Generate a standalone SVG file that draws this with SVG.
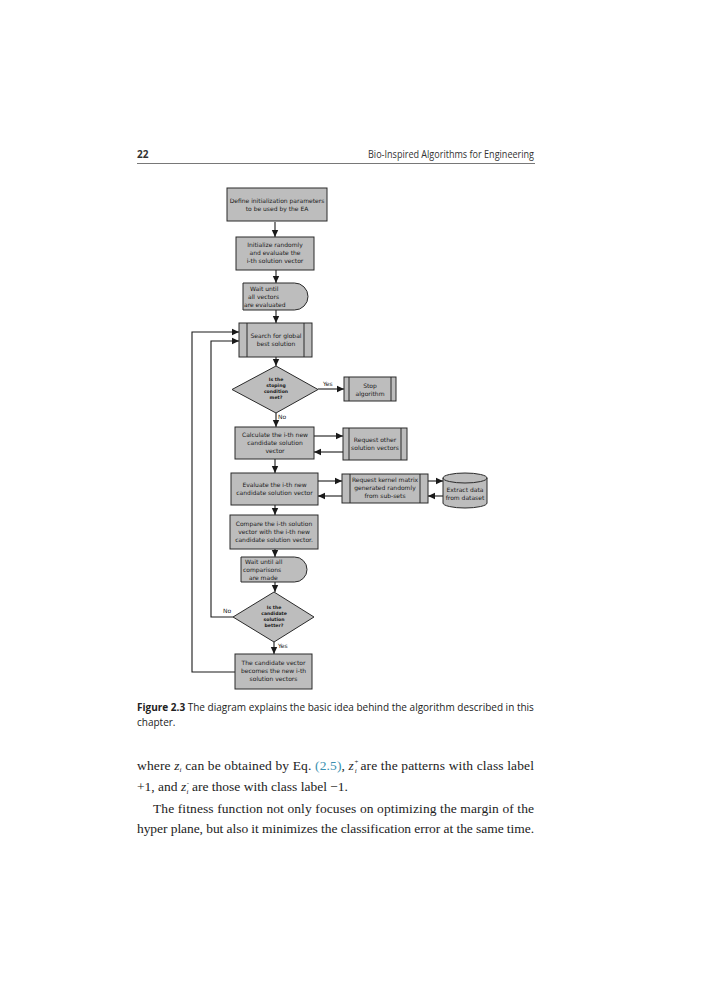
<svg xmlns="http://www.w3.org/2000/svg" width="724" height="1000" viewBox="0 0 724 1000">
<defs>
<style>
.box{fill:#bdbdbd;stroke:#2a2a2a;stroke-width:1}
.in{stroke:#2a2a2a;stroke-width:1}
.t{font-family:"DejaVu Sans",sans-serif;font-size:6px;fill:#1a1a1a;text-anchor:middle}
.tl{font-family:"DejaVu Sans",sans-serif;font-size:6px;fill:#1a1a1a}
.tb{font-family:"DejaVu Sans",sans-serif;font-size:4.6px;font-weight:bold;fill:#1a1a1a;text-anchor:middle}
.lab{font-family:"DejaVu Sans",sans-serif;font-size:6px;fill:#1a1a1a}
.c{fill:none;stroke:#1a1a1a;stroke-width:1.1}
.hdr{font-family:"Open Sans","Noto Sans",sans-serif;font-size:10px;fill:#333}
.cap{font-family:"Open Sans","Noto Sans",sans-serif;font-size:10px;fill:#222}
.body{font-family:"Liberation Serif",serif;font-size:13.5px;fill:#222}
.sc{font-style:italic;font-size:7px}
</style>
<marker id="ah" markerWidth="8" markerHeight="8" refX="7" refY="4" orient="auto" markerUnits="userSpaceOnUse">
<path d="M0,0.8 L7,4 L0,7.2 Z" fill="#1a1a1a"/>
</marker>
</defs>
<rect width="724" height="1000" fill="#fff"/>
<g id="header">
<text class="hdr" x="137" y="158" font-weight="bold" font-size="10.5">22</text>
<text class="hdr" x="534" y="158" text-anchor="end" textLength="166" lengthAdjust="spacingAndGlyphs">Bio-Inspired Algorithms for Engineering</text>
<line x1="137" y1="163.5" x2="535" y2="163.5" stroke="#555" stroke-width="0.8"/>
</g>
<g id="connectors">
<line class="c" x1="275" y1="222" x2="275" y2="237" marker-end="url(#ah)"/>
<line class="c" x1="276" y1="270" x2="276" y2="283" marker-end="url(#ah)"/>
<line class="c" x1="276" y1="310" x2="276" y2="323" marker-end="url(#ah)"/>
<line class="c" x1="276" y1="357" x2="276" y2="366" marker-end="url(#ah)"/>
<line class="c" x1="318" y1="389" x2="344" y2="389" marker-end="url(#ah)"/>
<line class="c" x1="276" y1="413" x2="276" y2="427" marker-end="url(#ah)"/>
<line class="c" x1="314" y1="436" x2="343" y2="436" marker-end="url(#ah)"/>
<line class="c" x1="343" y1="452" x2="314" y2="452" marker-end="url(#ah)"/>
<line class="c" x1="275" y1="459" x2="275" y2="473" marker-end="url(#ah)"/>
<line class="c" x1="318" y1="481" x2="342" y2="481" marker-end="url(#ah)"/>
<line class="c" x1="342" y1="496" x2="318" y2="496" marker-end="url(#ah)"/>
<line class="c" x1="428" y1="481" x2="443" y2="481" marker-end="url(#ah)"/>
<line class="c" x1="443" y1="496" x2="428" y2="496" marker-end="url(#ah)"/>
<line class="c" x1="275" y1="505" x2="275" y2="515" marker-end="url(#ah)"/>
<line class="c" x1="275" y1="549" x2="275" y2="557" marker-end="url(#ah)"/>
<line class="c" x1="275" y1="582" x2="275" y2="592" marker-end="url(#ah)"/>
<line class="c" x1="274" y1="642" x2="274" y2="654" marker-end="url(#ah)"/>
<polyline class="c" points="233,617 211,617 211,341 239,341" marker-end="url(#ah)"/>
<polyline class="c" points="235,672 192,672 192,332 239,332" marker-end="url(#ah)"/>
<text class="lab" x="323" y="386">Yes</text>
<text class="lab" x="278" y="419">No</text>
<text class="lab" x="223" y="613">No</text>
<text class="lab" x="278" y="648">Yes</text>
</g>
<g id="n1">
<rect class="box" x="227" y="188" width="100" height="33"/>
<text class="t" x="277" y="203">Define initialization parameters</text>
<text class="t" x="277" y="211">to be used by the EA</text>
</g>
<g id="n2">
<rect class="box" x="236" y="237" width="78" height="33"/>
<text class="t" x="275" y="247">Initialize randomly</text>
<text class="t" x="275" y="255">and evaluate the</text>
<text class="t" x="275" y="263">i-th solution vector</text>
</g>
<g id="n3">
<path class="box" d="M243,283 H294.5 A13.5,13.5 0 0 1 294.5,310 H243 Z"/>
<text class="tl" x="250" y="291">Wait until</text>
<text class="tl" x="248" y="299">all vectors</text>
<text class="tl" x="244" y="307">are evaluated</text>
</g>
<g id="n4">
<rect class="box" x="239" y="323" width="73" height="34"/>
<line class="in" x1="247" y1="323" x2="247" y2="357"/>
<line class="in" x1="304" y1="323" x2="304" y2="357"/>
<text class="t" x="276" y="338">Search for global</text>
<text class="t" x="276" y="346">best solution</text>
</g>
<g id="d1">
<polygon class="box" points="276,366 318,389.5 276,413 232,389.5"/>
<text class="tb" x="276" y="381">Is the</text>
<text class="tb" x="276" y="387">stoping</text>
<text class="tb" x="276" y="393">condition</text>
<text class="tb" x="276" y="399">met?</text>
</g>
<g id="stop">
<rect class="box" x="344" y="377" width="52" height="24"/>
<line class="in" x1="349" y1="377" x2="349" y2="401"/>
<line class="in" x1="391" y1="377" x2="391" y2="401"/>
<text class="t" x="370" y="388">Stop</text>
<text class="t" x="370" y="396">algorithm</text>
</g>
<g id="n5">
<rect class="box" x="235" y="427" width="79" height="32"/>
<text class="t" x="275" y="437">Calculate the i-th new</text>
<text class="t" x="275" y="445">candidate solution</text>
<text class="t" x="275" y="453">vector</text>
</g>
<g id="req1">
<rect class="box" x="343" y="428" width="64" height="32"/>
<line class="in" x1="349" y1="428" x2="349" y2="460"/>
<line class="in" x1="401" y1="428" x2="401" y2="460"/>
<text class="t" x="375" y="442">Request other</text>
<text class="t" x="375" y="450">solution vectors</text>
</g>
<g id="n6">
<rect class="box" x="231" y="473" width="87" height="32"/>
<text class="t" x="274.5" y="487">Evaluate the i-th new</text>
<text class="t" x="274.5" y="495">candidate solution vector</text>
</g>
<g id="req2">
<rect class="box" x="342" y="474" width="86" height="29"/>
<line class="in" x1="350" y1="474" x2="350" y2="503"/>
<line class="in" x1="420" y1="474" x2="420" y2="503"/>
<text class="t" x="385" y="482">Request kernel matrix</text>
<text class="t" x="385" y="490">generated randomly</text>
<text class="t" x="385" y="498">from sub-sets</text>
</g>
<g id="db">
<path class="box" d="M443,478 A22,5 0 0 1 487,478 V503 A22,5 0 0 1 443,503 Z"/>
<path d="M443,478 A22,5 0 0 0 487,478" fill="none" stroke="#2a2a2a" stroke-width="1"/>
<text class="t" x="465" y="492">Extract data</text>
<text class="t" x="465" y="500">from dataset</text>
</g>
<g id="n7">
<rect class="box" x="230" y="515" width="88" height="34"/>
<text class="t" x="274" y="526">Compare the i-th solution</text>
<text class="t" x="274" y="534">vector with the i-th new</text>
<text class="t" x="274" y="542">candidate solution vector.</text>
</g>
<g id="n8">
<path class="box" d="M241,557 H294.5 A12.5,12.5 0 0 1 294.5,582 H241 Z"/>
<text class="tl" x="245" y="564">Wait until all</text>
<text class="tl" x="243" y="572">comparisons</text>
<text class="tl" x="249" y="580">are made</text>
</g>
<g id="d2">
<polygon class="box" points="274,592 314,617 274,642 233,617"/>
<text class="tb" x="274" y="609">Is the</text>
<text class="tb" x="274" y="615">candidate</text>
<text class="tb" x="274" y="621">solution</text>
<text class="tb" x="274" y="627">better?</text>
</g>
<g id="n9">
<rect class="box" x="235" y="654" width="77" height="35"/>
<text class="t" x="273.5" y="665">The candidate vector</text>
<text class="t" x="273.5" y="673">becomes the new i-th</text>
<text class="t" x="273.5" y="681">solution vectors</text>
</g>
<g id="caption">
<text class="cap" x="137" y="711"><tspan font-weight="bold">Figure 2.3</tspan>  The diagram explains the basic idea behind the algorithm described in this</text>
<text class="cap" x="137" y="726">chapter.</text>
</g>
<g id="bodytext">
<text class="body" x="137" y="770" textLength="397" lengthAdjust="spacing">where <tspan font-style="italic">z</tspan><tspan class="sc" dy="2">i</tspan><tspan dy="-2"> can be obtained by Eq. </tspan><tspan fill="#3a8fb0">(2.5)</tspan>, <tspan font-style="italic">z</tspan><tspan class="sc" dy="-6">+</tspan><tspan class="sc" dx="-4" dy="9">i</tspan><tspan dy="-3">  are the patterns with class label</tspan></text>
<text class="body" x="137" y="791">+1, and <tspan font-style="italic">z</tspan><tspan class="sc" dx="0.5" dy="-6">-</tspan><tspan class="sc" dx="-2.5" dy="9">i</tspan><tspan dy="-3">  are those with class label −1.</tspan></text>
<text class="body" x="153" y="813" textLength="381" lengthAdjust="spacing">The fitness function not only focuses on optimizing the margin of the</text>
<text class="body" x="137" y="833" textLength="397" lengthAdjust="spacing">hyper plane, but also it minimizes the classification error at the same time.</text>
</g>
</svg>
